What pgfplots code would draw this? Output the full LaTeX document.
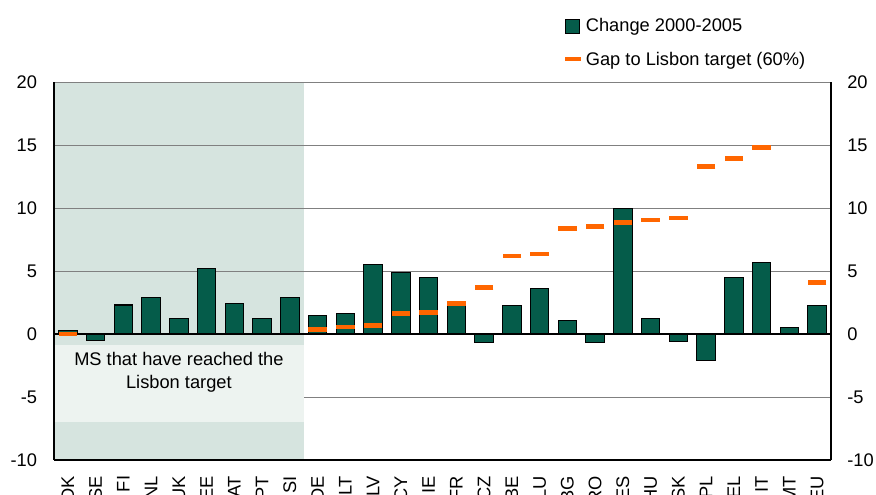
\documentclass[border=0pt]{standalone}
\usepackage{fontspec}
\setmainfont{Liberation Sans}
\usepackage{pgfplots}
\pgfplotsset{compat=1.18}
\definecolor{barg}{RGB}{5,92,74}
\definecolor{gapo}{RGB}{255,102,0}
\definecolor{shade}{RGB}{214,228,223}
\definecolor{boxc}{RGB}{237,243,240}
\definecolor{gridc}{RGB}{128,128,128}
\newcommand{\fs}{\fontsize{13.7}{16}\selectfont}
\begin{document}
\begin{tikzpicture}
\begin{axis}[
  set layers,
  scale only axis, width=582.75pt, height=283.5pt,
  xmin=-0.5, xmax=27.5, ymin=-10, ymax=20,
  axis x line*=bottom,
  axis line style={black, line width=1pt},
  xtick={0,...,27},
  xticklabels={DK,SE,FI,NL,UK,EE,AT,PT,SI,DE,LT,LV,CY,IE,FR,CZ,BE,LU,BG,RO,ES,HU,SK,PL,EL,IT,MT,EU},
  xticklabel style={rotate=90, anchor=east, inner sep=0pt, font=\fs},
  xticklabel shift=11.75pt,
  ytick={-10,-5,0,5,10,15,20},
  yticklabel style={inner sep=0pt, font=\fs},
  yticklabel shift=12.5pt,
  /pgf/number format/assume math mode=true,
  tick style={draw=none},
  ymajorgrids, major grid style={gridc, line width=0.6pt},
  extra y ticks={0}, extra y tick labels={},
  extra y tick style={grid=major, major grid style={black, line width=1.2pt}},
  legend style={draw=none, fill=none, at={(0.655,1)}, anchor=south west, yshift=9pt,
    font=\fs, row sep=9.5pt, inner sep=0pt},
  legend cell align=left,
]
\coordinate (bl) at (rel axis cs:0,0);
\addplot[on layer=axis background, fill=shade, draw=none, forget plot]
  coordinates {(-0.5,-10) (8.5,-10) (8.5,20) (-0.5,20)} -- cycle;
\fill[boxc] (axis cs:-0.46,-0.9) rectangle (axis cs:8.5,-7.0);
\node[font=\fs, align=center] at (axis cs:4,-3.05) {MS that have reached the\\[1pt]Lisbon target};
\node[font=\fs, anchor=west] at ([shift={(4.5pt,24pt)}]rel axis cs:0,1) {Percentage point change/difference};
\addplot[ybar, bar width=13.75pt, fill=barg, draw=black, line width=0.8pt,
  legend image code/.code={\draw[fill=barg, draw=black, line width=0.8pt] (0pt,-5.25pt) rectangle (10.5pt,5.25pt);}]
  coordinates {(0,0.3) (1,-0.55) (2,2.3) (3,2.9) (4,1.2) (5,5.2) (6,2.4) (7,1.2) (8,2.9)
  (9,1.5) (10,1.65) (11,5.5) (12,4.9) (13,4.45) (14,2.25) (15,-0.65) (16,2.25) (17,3.6)
  (18,1.05) (19,-0.65) (20,9.95) (21,1.25) (22,-0.6) (23,-2.1) (24,4.45) (25,5.7) (26,0.55) (27,2.25)};
\addlegendentry{Change 2000-2005}
\addplot[only marks, mark=-, mark size=7pt, mark options={gapo, line width=3.5pt},
  legend image code/.code={\draw[gapo, line width=3pt] (-0.5pt,0pt) -- (11.5pt,0pt);}]
  coordinates {(0,0) (9,0.35) (10,0.55) (11,0.7) (12,1.6) (13,1.7) (14,2.4) (15,3.7)
  (16,6.2) (17,6.35) (18,8.35) (19,8.55) (20,8.85) (21,9.05) (22,9.2) (23,13.3)
  (24,13.95) (25,14.8) (27,4.1)};
\addlegendentry{Gap to Lisbon target (60\%)}
\end{axis}
\begin{axis}[
  scale only axis, width=582.75pt, height=283.5pt,
  xmin=-0.5, xmax=27.5, ymin=-10, ymax=20,
  axis x line=none, axis y line*=right,
  axis line style={black, line width=1pt},
  ytick={-10,-5,0,5,10,15,20},
  yticklabel style={inner sep=0pt, font=\fs},
  yticklabel shift=12pt,
  /pgf/number format/assume math mode=true,
  tick style={draw=none},
]
\addplot[draw=none, forget plot] coordinates {(0,0)};
\end{axis}
\pgfresetboundingbox
\path[use as bounding box] ([shift={(-40.5pt,-26.25pt)}]bl) rectangle ++(657pt,371.25pt);
\end{tikzpicture}
\end{document}
